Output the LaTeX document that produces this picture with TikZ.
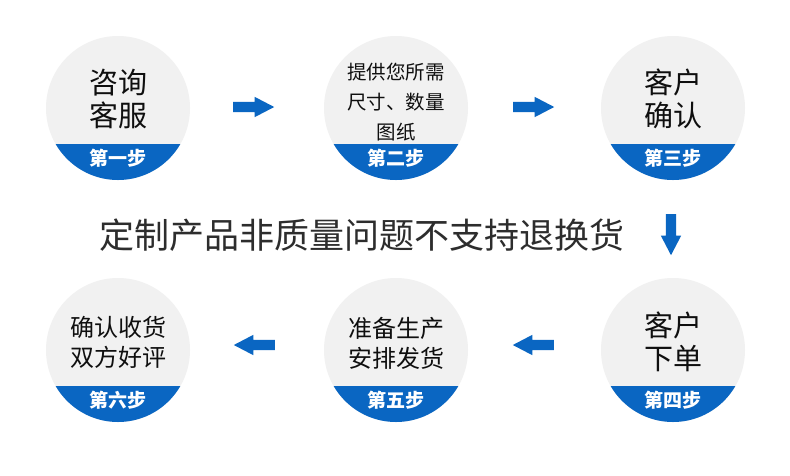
\documentclass[tikz,border=0pt]{standalone}
\usepackage{fontspec}
\newfontfamily\cjk{Noto Sans CJK SC}
\usetikzlibrary{shapes.arrows,calc}
\definecolor{stepblue}{RGB}{10,102,194}
\definecolor{circlegray}{RGB}{241,241,241}
\definecolor{textdark}{RGB}{15,15,15}
\definecolor{notegray}{RGB}{45,45,45}
\begin{document}
\begin{tikzpicture}[x=1pt,y=-1pt,
  stepcircle/.style={circle, fill=circlegray, minimum size=144pt, inner sep=0pt},
  bigtext/.style={align=center, text=textdark, inner sep=0pt, font=\cjk\fontsize{29}{33}\selectfont},
  midtext/.style={align=center, text=textdark, inner sep=0pt, font=\cjk\fontsize{24}{30}\selectfont},
  smalltext/.style={align=center, text=textdark, inner sep=0pt, font=\cjk\fontsize{19.5}{30}\selectfont},
  bandtext/.style={text=white, inner sep=0pt, font=\cjk\bfseries\fontsize{19}{22}\selectfont},
  flowarrow/.style={single arrow, fill=stepblue, draw=none, minimum height=41pt, minimum width=20pt,
    single arrow head extend=5pt, single arrow tip angle=55, inner sep=5pt, anchor=tail}
]
\useasboundingbox[fill=white] (0,0) rectangle (790,475);

% circles
\node[stepcircle] (c1) at (118,108) {};
\node[stepcircle] (c2) at (396,108) {};
\node[stepcircle] (c3) at (673,108) {};
\node[stepcircle] (c4) at (673,350) {};
\node[stepcircle] (c5) at (396,350) {};
\node[stepcircle] (c6) at (118,350) {};

% blue bands
\foreach \c in {c1,c2,c3,c4,c5,c6}{
  \begin{scope}
    \clip (\c.center) circle (72);
    \fill[stepblue] ($(\c.center)+(-80,35.5)$) rectangle ($(\c.center)+(80,80)$);
  \end{scope}
}

% band labels
\node[bandtext] (b1) at (118,158) {第一步};
\node[bandtext] (b2) at (396,158) {第二步};
\node[bandtext] (b3) at (673,158) {第三步};
\node[bandtext] (b4) at (673,400) {第四步};
\node[bandtext] (b5) at (396,400) {第五步};
\node[bandtext] (b6) at (118,400) {第六步};

% circle texts
\node[bigtext] (t1) at (118,98.5) {咨询\\客服};
\node[smalltext] (t2) at (396,102) {提供您所需\\尺寸、数量\\图纸};
\node[bigtext] (t3) at (673,99) {客户\\确认};
\node[bigtext] (t4) at (673,342) {客户\\下单};
\node[midtext] (t5) at (396,343) {准备生产\\安排发货};
\node[midtext] (t6) at (118,342) {确认收货\\双方好评};

% note
\node[text=notegray, inner sep=0pt, font=\cjk\fontsize{35}{40}\selectfont] (note) at (362,235) {定制产品非质量问题不支持退换货};

% arrows
\node[flowarrow] (a1) at (233,107) {};
\node[flowarrow] (a2) at (513,107) {};
\node[flowarrow, shape border rotate=270] (a3) at (671,214) {};
\node[flowarrow, shape border rotate=180] (a4) at (554,345) {};
\node[flowarrow, shape border rotate=180] (a5) at (275,345) {};
\end{tikzpicture}
\end{document}
